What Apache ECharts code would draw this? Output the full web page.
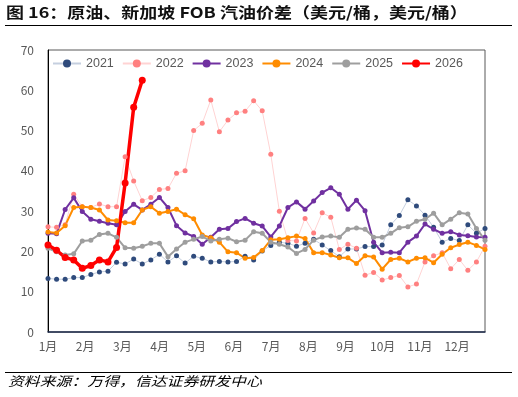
<!DOCTYPE html>
<html><head><meta charset="utf-8">
<script src="https://cdn.jsdelivr.net/npm/echarts@6/dist/echarts.min.js"></script>
<style>html,body{margin:0;padding:0;background:#fff}#c{width:518px;height:397px}</style>
</head><body><div id="c"></div>
<script>
const monthLabels = ['1月','2月','3月','4月','5月','6月','7月','8月','9月','10月','11月','12月'];
const monthPos = [0,4.34,8.68,13.02,17.36,21.7,26.04,30.38,34.72,39.06,43.4,47.74];
const yTicks = [0,10,20,30,40,50,60,70];
const s2021 = [13.3,13.1,13.1,13.5,13.5,14.3,14.9,15.1,17.3,16.9,18.1,16.9,17.9,19.3,17.4,18.9,17.1,18.8,18.3,17.4,17.5,17.4,17.5,18.8,17.9,20.1,21.5,22.3,22.0,21.3,22.0,23.0,21.6,20.2,18.7,20.6,20.6,21.2,21.2,21.6,26.6,28.9,32.8,31.3,29.0,26.0,22.3,23.2,22.7,26.6,24.5,25.7];
const s2022 = [26.1,26.0,26.6,34.2,31.1,30.9,31.8,31.1,31.1,43.5,37.5,32.6,33.4,35.4,35.6,39.4,40.0,50.0,51.8,57.6,49.7,52.6,54.4,54.8,57.4,54.9,44.1,30.0,22.7,22.6,28.2,24.6,29.6,28.5,20.5,21.8,20.8,14.1,14.8,12.9,13.5,14.0,11.2,11.9,17.4,18.9,19.7,15.7,18.0,15.3,17.4,21.3];
const s2023 = [24.5,24.4,30.4,33.3,29.9,28.0,27.5,27.0,26.6,29.9,31.7,30.3,31.7,33.4,30.9,26.4,24.6,23.7,21.8,23.5,25.5,25.7,27.4,28.2,27.0,26.3,23.6,26.3,30.9,32.3,30.5,32.5,34.6,35.8,34.2,30.5,32.7,30.1,22.3,19.7,19.8,19.7,22.3,23.8,26.8,25.5,24.5,24.9,24.1,23.9,23.6,23.5];
const s2024 = [24.8,24.6,26.4,30.9,31.1,30.9,30.3,27.8,27.6,27.1,27.1,30.3,31.1,29.5,29.9,30.5,29.1,28.1,24.1,23.4,22.3,19.9,19.7,18.3,18.5,20.2,22.9,23.0,23.4,23.8,23.2,19.7,19.7,19.1,18.4,18.4,17.0,18.9,18.6,15.6,18.0,18.3,17.4,18.3,18.4,17.2,19.3,20.9,21.7,22.3,21.5,20.5];
const s2025 = [20.8,19.9,19.1,19.4,22.6,22.8,24.2,24.5,23.5,20.9,20.8,21.3,22.0,22.0,18.7,20.6,22.3,23.0,23.7,22.6,23.0,23.3,22.4,22.8,24.9,24.5,22.3,21.8,21.1,19.5,20.5,22.8,23.6,23.8,23.5,25.5,25.8,25.5,23.5,23.5,24.5,25.9,26.1,27.5,28.0,29.5,26.6,28.0,29.6,29.3,25.7,22.8];
const s2026 = [21.6,20.3,18.5,17.9,15.8,16.5,17.9,17.4,21.0,37.0,55.8,62.5];

function pts(arr){ return arr.map((v,i)=>[i,v]); }
const chart = echarts.init(document.getElementById('c'), null, {renderer:'canvas'});
const mk = (name, data, lineColor, markColor, width, size) => ({
  name, type:'line', data: pts(data), symbol:'circle', symbolSize:size,
  lineStyle:{color:lineColor, width:width}, itemStyle:{color:markColor},
  emphasis:{disabled:true}, animation:false
});
chart.setOption({
  animation:false,
  textStyle:{fontFamily:'"Noto Sans CJK SC", "Noto Sans", sans-serif'},
  graphic:[
    {type:'text', x:6, y:5, scaleX:1.2, style:{text:'图 16：原油、新加坡 FOB 汽油价差（美元/桶，美元/桶）', font:'bold 15px "Noto Sans CJK SC", sans-serif', fill:'#111', align:'left', verticalAlign:'top'}},
    {type:'line', shape:{x1:5,y1:25.5,x2:512,y2:25.5}, style:{stroke:'#000', lineWidth:1}},
    {type:'line', shape:{x1:5,y1:372.5,x2:512,y2:372.5}, style:{stroke:'#000', lineWidth:1}},
    {type:'text', x:8, y:375, scaleX:1.22, style:{text:'资料来源：万得，信达证券研发中心', font:'italic 13px "Noto Sans CJK SC", sans-serif', fill:'#000', align:'left', verticalAlign:'top'}}
  ],
  legend:{
    top:52, left:47, itemWidth:28, itemHeight:10, itemGap:8,
    textStyle:{color:'#595959', fontSize:12.5, fontFamily:'"Liberation Sans", Arial, sans-serif'},
    data:['2021','2022','2023','2024','2025','2026']
  },
  grid:{left:48, right:33, top:50, bottom:65, show:true, borderColor:'#595959', borderWidth:1},
  xAxis:{
    type:'value', min:0, max:51,
    axisLine:{show:true, lineStyle:{color:'#1f2d4d', width:1.5}},
    axisTick:{show:false}, splitLine:{show:false},
    axisLabel:{customValues:monthPos, formatter:(v,i)=>monthLabels[monthPos.indexOf(v)] ?? '', color:'#595959', fontSize:12, margin:8}
  },
  yAxis:{
    type:'value', min:yTicks[0], max:yTicks[yTicks.length-1], interval:10,
    axisLine:{show:true, lineStyle:{color:'#000', width:1}},
    axisTick:{show:false}, splitLine:{show:false},
    axisLabel:{color:'#595959', fontSize:12, margin:14}
  },
  series:[
    mk('2021', s2021, '#C5CFDF', '#2F4B7C', 1, 5),
    mk('2022', s2022, '#FFD3D3', '#FF8080', 1, 5),
    mk('2023', s2023, '#7030A0', '#7030A0', 2, 5),
    mk('2024', s2024, '#FF8C00', '#FF8C00', 2, 5),
    mk('2025', s2025, '#9E9E9E', '#9E9E9E', 2, 5),
    mk('2026', s2026, '#FF0000', '#FF0000', 3.5, 7)
  ]
});
</script></body></html>
